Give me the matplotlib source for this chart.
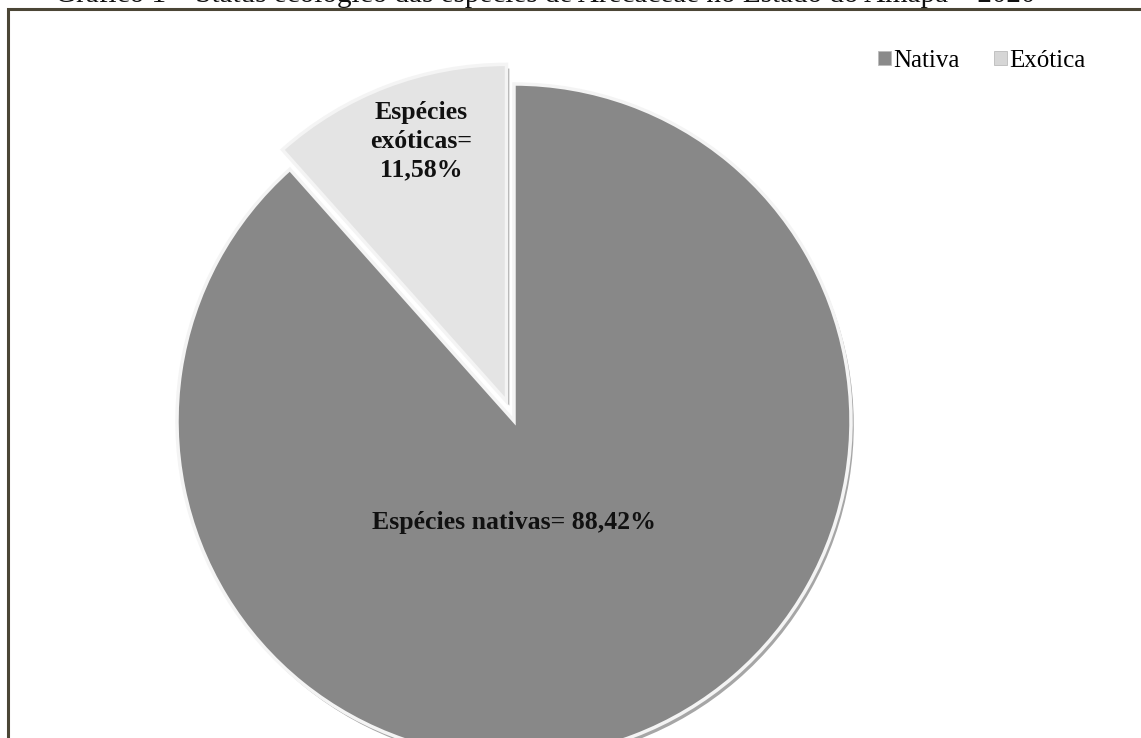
import matplotlib
matplotlib.use("Agg")
import matplotlib.pyplot as plt
from matplotlib.patches import Patch
import matplotlib.patheffects as pe

plt.rcParams['font.family'] = ['Liberation Serif', 'DejaVu Serif']

# Data
categories = ["Nativa", "Exótica"]
shares = [88.42, 11.58]
slice_labels = ["Espécies nativas= 88,42%", "Espécies\nexóticas=\n11,58%"]
title = "Gráfico 1 – Status ecológico das espécies de Arecaceae no Estado do Amapá – 2020"

colors = ["#888888", "#e4e4e4"]
legend_colors = ["#8a8a8a", "#d6d6d6"]

W, H = 1141, 738
fig = plt.figure(figsize=(W / 100, H / 100), dpi=100)
ax = fig.add_axes([0, 0, 1, 1])

cx, cy, r = 514, H - 421, 337
wedges, _ = ax.pie(
    shares, colors=colors, startangle=90, counterclock=False,
    center=(cx, cy), radius=r, explode=[0, 21],
    wedgeprops=dict(edgecolor="#f4f4f4", linewidth=2.5),
)
for w in wedges:
    w.set_path_effects([
        pe.SimplePatchShadow(offset=(2, -3), shadow_rgbFace="k", alpha=0.35),
        pe.Normal(),
    ])

ax.set_xlim(0, W)
ax.set_ylim(0, H)
ax.set_aspect("equal")
ax.axis("off")

# Slice labels
ax.text(cx, cy - 101, slice_labels[0], ha="center", va="center",
        fontsize=18.5, fontweight="bold", color="#111111")
ax.text(cx - 93, cy + 280, slice_labels[1], ha="center", va="center",
        fontsize=18.5, fontweight="bold", color="#111111", linespacing=1.3)

# Frame around the chart area (top and left edges visible)
ax.plot([8, 8, W + 5], [-5, H - 9, H - 9], color="#4b4636", lw=2.2,
        solid_joinstyle="miter", clip_on=False)

# Title, partly above the frame
fig.text(545 / W, 1 - 2 / H, title, ha="center", va="baseline",
         fontsize=21, color="#111111")

# Legend
handles = [Patch(facecolor=c, edgecolor="#bbbbbb", linewidth=0.6) for c in legend_colors]
fig.legend(handles, categories, loc="center left",
           bbox_to_anchor=(878 / W, 1 - 61 / H), ncol=2, frameon=False,
           fontsize=18, handlelength=0.5, handleheight=0.5,
           handletextpad=0.1, columnspacing=1.4, borderpad=0,
           borderaxespad=0)

fig.savefig("out.png", dpi=100)
